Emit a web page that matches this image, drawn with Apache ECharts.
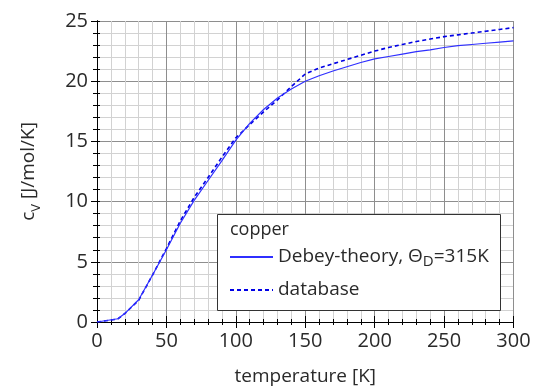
<!DOCTYPE html>
<html>
<head>
<meta charset="utf-8">
<script src="https://cdn.jsdelivr.net/npm/echarts@6/dist/echarts.min.js"></script>
<style>html,body{margin:0;padding:0;background:#fff;}#c{width:540px;height:391px;}</style>
</head>
<body>
<div id="c"></div>
<script>
// temperatures [K]
const temps = [0,15,20,30,40,50,60,70,80,90,100,110,120,130,140,150,160,170,180,190,200,210,220,230,240,250,260,270,280,290,300];
// Debye theory, Theta_D = 315 K  [J/mol/K]
const theory = [0,0.27,0.7,1.85,3.9,6.0,8.2,10.1,11.75,13.4,15.1,16.5,17.65,18.6,19.35,20.0,20.45,20.85,21.2,21.55,21.85,22.05,22.25,22.45,22.6,22.8,22.95,23.05,23.15,23.25,23.35];
// database values [J/mol/K]
const database = [0,0.25,0.7,1.8,3.9,6.1,8.4,10.35,12.0,13.7,15.3,16.4,17.45,18.45,19.55,20.6,21.1,21.45,21.8,22.15,22.5,22.8,23.05,23.3,23.5,23.7,23.85,24.0,24.15,24.3,24.45];
const xTicks = {min:0, max:300, interval:50};
const yTicks = {min:0, max:25, interval:5};

const FONT = 'Open Sans';
const TXT = '#2a2a2a';
const chart = echarts.init(document.getElementById('c'), null, {renderer:'canvas'});

function mkAxis(base, opts){ return Object.assign({}, base, opts); }
const xBase = {type:'value', min:xTicks.min, max:xTicks.max, interval:xTicks.interval};
const yBase = {type:'value', min:yTicks.min, max:yTicks.max, interval:yTicks.interval};
const blackLine = {show:true, lineStyle:{color:'#000', width:1}};

const option = {
  animation:false,
  backgroundColor:'#fff',
  grid:{left:97, right:26.5, top:21, bottom:66.7, containLabel:false},
  xAxis:[
    mkAxis(xBase,{position:'bottom', axisLine:blackLine,
      axisTick:{show:true, inside:false, length:6, lineStyle:{color:'#000'}},
      minorTick:{show:true, splitNumber:5, length:3, lineStyle:{color:'#000'}},
      axisLabel:{fontFamily:FONT, fontSize:20, color:TXT, margin:9},
      splitLine:{show:true, lineStyle:{color:'#8e8e8e', width:1}},
      minorSplitLine:{show:true, lineStyle:{color:'#d2d2d2', width:1}},
      name:'temperature [K]', nameLocation:'middle', nameGap:45,
      nameTextStyle:{fontFamily:FONT, fontSize:19, color:TXT}}),
    mkAxis(xBase,{position:'bottom', axisLine:blackLine,
      axisTick:{show:true, inside:true, length:3, lineStyle:{color:'#000'}},
      minorTick:{show:true, splitNumber:5, length:3, lineStyle:{color:'#000'}},
      axisLabel:{show:false}, splitLine:{show:false}}),
    mkAxis(xBase,{position:'top', axisLine:blackLine,
      axisTick:{show:true, inside:false, length:6, lineStyle:{color:'#000'}},
      minorTick:{show:true, splitNumber:5, length:3, lineStyle:{color:'#000'}},
      axisLabel:{show:false}, splitLine:{show:false}})
  ],
  yAxis:[
    mkAxis(yBase,{position:'left', axisLine:blackLine,
      axisTick:{show:true, inside:false, length:6, lineStyle:{color:'#000'}},
      minorTick:{show:true, splitNumber:5, length:3, lineStyle:{color:'#000'}},
      axisLabel:{fontFamily:FONT, fontSize:20, color:TXT, margin:9},
      splitLine:{show:true, lineStyle:{color:'#8e8e8e', width:1}},
      minorSplitLine:{show:true, lineStyle:{color:'#d2d2d2', width:1}},
      name:'{a|c}{s|V}{a| [J/mol/K]}', nameLocation:'middle', nameGap:54,
      nameTextStyle:{fontFamily:FONT, color:TXT,
        rich:{a:{fontFamily:FONT, fontSize:19, color:TXT, lineHeight:28},
              s:{fontFamily:FONT, fontSize:13, color:TXT, lineHeight:14, verticalAlign:'bottom'}}}}),
    mkAxis(yBase,{position:'left', axisLine:blackLine,
      axisTick:{show:true, inside:true, length:3, lineStyle:{color:'#000'}},
      minorTick:{show:true, splitNumber:5, length:3, lineStyle:{color:'#000'}},
      axisLabel:{show:false}, splitLine:{show:false}}),
    mkAxis(yBase,{position:'right', axisLine:blackLine,
      axisTick:{show:true, inside:true, length:6, lineStyle:{color:'#000'}},
      minorTick:{show:true, splitNumber:5, length:4, lineStyle:{color:'#000'}},
      axisLabel:{show:false}, splitLine:{show:false}})
  ],
  legend:{
    show:true, orient:'vertical', left:229, top:245, itemWidth:43, itemHeight:14, itemGap:9,
    padding:0, z:20,
    itemStyle:{opacity:0, borderWidth:0},
    data:['theory','database'],
    formatter:function(n){ return n==='theory' ? '{a|Debey-theory, Θ}{s|D}{a|=315K}' : '{a|database}'; },
    textStyle:{fontFamily:FONT, fontSize:19, color:TXT, lineHeight:24,
      rich:{a:{fontFamily:FONT, fontSize:19, color:TXT, lineHeight:24},
            s:{fontFamily:FONT, fontSize:15, color:TXT, lineHeight:14, verticalAlign:'bottom'}}}
  },
  graphic:[
    {type:'rect', z:10, left:217, top:214, shape:{width:283, height:96},
      style:{fill:'#fff', stroke:'#333', lineWidth:1}},
    {type:'text', z:21, left:230, top:221,
      style:{text:'copper', font:'18px "Open Sans"', fill:TXT}}
  ],
  series:[
    {name:'theory', type:'line', xAxisIndex:0, yAxisIndex:0, showSymbol:false, symbol:'none',
      data: temps.map((t,i)=>[t, theory[i]]),
      lineStyle:{color:'#2f2fff', width:1.2, type:'solid'}, itemStyle:{color:'#2f2fff'}, z:3},
    {name:'database', type:'line', xAxisIndex:0, yAxisIndex:0, showSymbol:false, symbol:'none',
      data: temps.map((t,i)=>[t, database[i]]),
      lineStyle:{color:'#0000e6', width:1.6, type:[4,3]}, itemStyle:{color:'#0000e6'}, z:2}
  ]
};
chart.setOption(option);
</script>
</body>
</html>
